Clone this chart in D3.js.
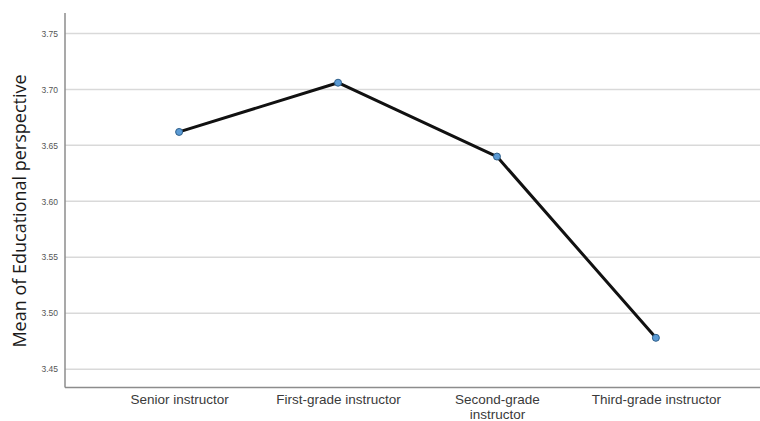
<!DOCTYPE html>
<html>
<head>
<meta charset="utf-8">
<script src="https://cdn.jsdelivr.net/npm/d3@7"></script>
<style>
  html, body { margin: 0; padding: 0; background: #fff; }
  svg { display: block; }
</style>
</head>
<body>
<svg id="chart" width="760" height="421"></svg>
<script>
const categories = ["Senior instructor", "First-grade instructor", "Second-grade instructor", "Third-grade instructor"];
const means = [3.662, 3.706, 3.640, 3.478];
const yTicks = [3.45, 3.50, 3.55, 3.60, 3.65, 3.70, 3.75];
const yTitle = "Mean of Educational perspective";

(function () {
const svg = d3.select("#chart");
const W = 760, H = 421;
const mLeft = 65, mRight = 770, mTop = 13, mBottom = 387.5;

const y = d3.scaleLinear().domain([3.4336, 3.7683]).range([mBottom, mTop]);
const x = d3.scalePoint().domain(categories).range([mLeft, mRight]).padding(0.718);

// gridlines
svg.append("g").selectAll("line").data(yTicks).join("line")
  .attr("x1", mLeft).attr("x2", W)
  .attr("y1", d => y(d)).attr("y2", d => y(d))
  .attr("stroke", "#d9d9d9").attr("stroke-width", 1.5);

// y axis
const yAxis = d3.axisLeft(y).tickValues(yTicks).tickFormat(d3.format(".2f")).tickSize(0).tickPadding(7);
const gy = svg.append("g").attr("transform", `translate(${mLeft},0)`).call(yAxis);
gy.select(".domain").remove();
gy.selectAll("text").attr("font-family", "Liberation Sans, Arial, sans-serif").attr("font-size", 8.5).attr("fill", "#555");

// x axis
const xAxis = d3.axisBottom(x).tickSize(0).tickPadding(7);
const gx = svg.append("g").attr("transform", `translate(0,${mBottom})`).call(xAxis);
gx.select(".domain").remove();
gx.selectAll("text")
  .attr("font-family", "Liberation Sans, Arial, sans-serif")
  .attr("font-size", 13.5).attr("fill", "#3a3a3a")
  .each(function(d) {
    const t = d3.select(this);
    const words = d.split(" ");
    t.text(null);
    const maxW = 136;
    let line = [];
    let tspan = t.append("tspan").attr("x", 0).attr("dy", "0.71em");
    for (const w of words) {
      line.push(w);
      tspan.text(line.join(" "));
      if (tspan.node().getComputedTextLength() > maxW && line.length > 1) {
        line.pop();
        tspan.text(line.join(" "));
        line = [w];
        tspan = t.append("tspan").attr("x", 0).attr("dy", "1.1em").text(w);
      }
    }
  });

// axis lines
svg.append("line").attr("x1", mLeft).attr("x2", mLeft).attr("y1", mTop).attr("y2", mBottom)
  .attr("stroke", "#8c8c8c").attr("stroke-width", 1.5);
svg.append("line").attr("x1", mLeft).attr("x2", W).attr("y1", mBottom).attr("y2", mBottom)
  .attr("stroke", "#8c8c8c").attr("stroke-width", 1.5);

// line
const data = categories.map((c, i) => ({c, v: means[i]}));
svg.append("path").datum(data)
  .attr("fill", "none").attr("stroke", "#111").attr("stroke-width", 3)
  .attr("stroke-linejoin", "round")
  .attr("d", d3.line().x(d => x(d.c)).y(d => y(d.v)));

svg.append("g").selectAll("circle").data(data).join("circle")
  .attr("cx", d => x(d.c)).attr("cy", d => y(d.v)).attr("r", 3.5)
  .attr("fill", "#5b9bd5").attr("stroke", "#2f5f8a").attr("stroke-width", 1);

// y title
svg.append("text")
  .attr("transform", `translate(26,211) rotate(-90)`)
  .attr("text-anchor", "middle")
  .attr("font-family", "Open Sans, sans-serif")
  .attr("font-size", 18).attr("fill", "#1a1a1a")
  .text(yTitle);
})();
</script>
</body>
</html>
